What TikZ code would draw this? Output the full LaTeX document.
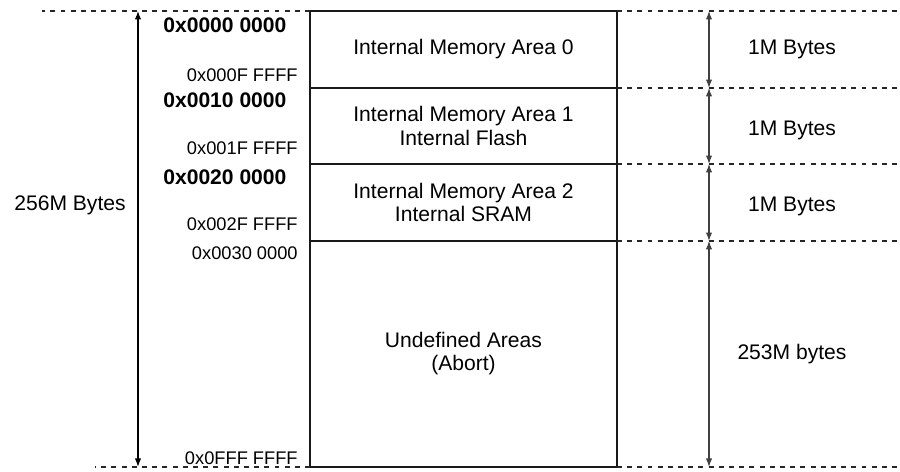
\documentclass[tikz,border=0pt]{standalone}
\usepackage{fontspec}
\setmainfont{Liberation Sans}
\usetikzlibrary{arrows.meta, positioning, calc}

\begin{document}
\begin{tikzpicture}[
    x=0.02cm, y=-0.02cm,
    >={Latex[length=4.8pt,width=3.6pt]},
    font=\fontsize{12}{13.2}\selectfont,
    area/.style={draw=black!90, line width=1.2pt, outer sep=0pt, inner sep=0pt, minimum width=6.14cm, align=center},
    guide/.style={dash pattern=on 2.8pt off 3pt, line width=1.1pt, black!85},
    span/.style={<->, line width=0.6pt, black!75},
    addrlo/.style={font=\fontsize{10.4}{12}\selectfont, anchor=east, inner sep=0pt},
    addrhi/.style={font=\fontsize{12}{14}\selectfont\bfseries, anchor=west, inner sep=0pt},
    size/.style={inner sep=0pt}
  ]
    \useasboundingbox (0,0) rectangle (900,472);
    % helper columns
    \coordinate (leftend) at (42,0);
    \coordinate (botend) at (95,0);
    \coordinate (rightend) at (900,0);
    \coordinate (totalx) at (138,0);
    \coordinate (partx) at (709,0);
    \coordinate (sizex) at (792,0);
    % memory areas
    \node[area, minimum height=1.54cm] (area0) at (463.5,49.5) {Internal Memory Area 0};
    \node[area, minimum height=1.52cm, below=0pt of area0] (area1)
    {Internal Memory Area 1\\ Internal Flash};
    \node[area, minimum height=1.54cm, below=0pt of area1] (area2)
    {Internal Memory Area 2\\ Internal SRAM};
    \node[area, minimum height=4.52cm, below=0pt of area2] (undef)
    {Undefined Areas\\ (Abort)};
    % dashed guides
    \draw[guide] (area0.north west) -- (area0.north west -| leftend);
    \draw[guide] (area0.north east) -- (area0.north east -| rightend);
    \draw[guide] (area1.north east) -- (area1.north east -| rightend);
    \draw[guide] (area2.north east) -- (area2.north east -| rightend);
    \draw[guide] (undef.north east) -- (undef.north east -| rightend);
    \draw[guide] (undef.south west) -- (undef.south west -| botend);
    \draw[guide] (undef.south east) -- (undef.south east -| rightend);
    % sizes
    \draw[span, black] (area0.north -| totalx) -- (undef.south -| totalx);
    \node[size] (total) at (70,205) {256M Bytes};
    \draw[span] (area0.north -| partx) -- (area0.south -| partx);
    \draw[span] (area1.north -| partx) -- (area1.south -| partx);
    \draw[span] (area2.north -| partx) -- (area2.south -| partx);
    \draw[span] (undef.north -| partx) -- (undef.south -| partx);
    \node[size] (size0) at (area0.east -| sizex) {1M Bytes};
    \node[size] (size1) at ($(area1.east -| sizex)+(0,4)$) {1M Bytes};
    \node[size] (size2) at ($(area2.east -| sizex)+(0,4)$) {1M Bytes};
    \node[size] (size3) at (undef.east -| sizex) {253M bytes};
    % addresses
    \node[addrhi] (a0s) at (163,25) {0x0000 0000};
    \node[addrlo] (a0e) at (298,75) {0x000F FFFF};
    \node[addrhi] (a1s) at (163,100) {0x0010 0000};
    \node[addrlo] (a1e) at (298,148) {0x001F FFFF};
    \node[addrhi] (a2s) at (163,177) {0x0020 0000};
    \node[addrlo] (a2e) at (298,224) {0x002F FFFF};
    \node[addrlo] (a3s) at (298,253) {0x0030 0000};
    \node[addrlo] (a3e) at (298,458) {0x0FFF FFFF};
\end{tikzpicture}
\end{document}
